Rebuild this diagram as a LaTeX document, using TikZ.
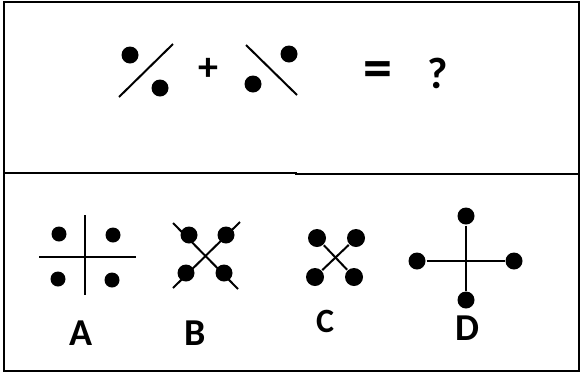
\documentclass[tikz,border=0pt]{standalone}
\usepackage{fontspec}
\setmainfont{Carlito}

\begin{document}
\begin{tikzpicture}[x=1pt, y=-1pt, line width=2pt,
		dot/.style = {circle, fill = black, inner sep = 0pt, minimum size = #1},
		dot/.default = 17pt,
		sign/.style = {font = \fontsize{#1}{#1}\selectfont\bfseries, inner sep = 0pt},
		choice/.style = {font = \fontsize{38}{38}\selectfont\bfseries, inner sep = 0pt}]
			\useasboundingbox (0, 0) rectangle (581, 373);
			% outline
			\draw[line width = 2pt]
				(4, 2) rectangle (579, 371)
				(4, 173) -- (296, 173) -- (296, 174) -- (579, 174);
			% question
			\draw
				(119, 97) -- (173, 44)
				(246, 45) -- (297, 95);
			\node[dot] (qa1) at (130, 55) {};
			\node[dot] (qa2) at (160, 88) {};
			\node[sign = 40] (plus) at (208, 69.5) {+};
			\node[sign = 58] (equals) at (377.5, 75) {=};
			\node[sign = 44] (ask) at (438, 73) {?};
			\node[dot] (qb1) at (289, 54) {};
			\node[dot] (qb2) at (253, 84) {};
			% choice A
			\draw
				(85, 215) -- (85, 295)
				(39, 257) -- (136, 257);
			\node[dot = 15pt] (a1) at (59, 234) {};
			\node[dot = 15pt] (a2) at (113, 235) {};
			\node[dot = 15pt] (a3) at (58, 279) {};
			\node[dot = 15pt] (a4) at (112, 280) {};
			\node[choice] (labA) at (81, 333.5) {A};
			% choice B
			\draw
				(173, 223) -- (238, 289)
				(173, 288) -- (240, 222);
			\node[dot] (b1) at (189, 235) {};
			\node[dot] (b2) at (226, 235) {};
			\node[dot] (b3) at (186, 273) {};
			\node[dot] (b4) at (224, 273) {};
			\node[choice] (labB) at (195, 333) {B};
			% choice C
			\node[dot = 18pt] (c1) at (317, 238) {};
			\node[dot = 18pt] (c2) at (356, 238) {};
			\node[dot = 18pt] (c3) at (315, 277) {};
			\node[dot = 18pt] (c4) at (354, 277) {};
			\draw (c1) -- (c4) (c2) -- (c3);
			\node[choice, font = \fontsize{34}{34}\selectfont\bfseries] (labC) at (325, 321) {C};
			% choice D
			\node[dot] (d1) at (466, 216) {};
			\node[dot] (d2) at (466, 300) {};
			\node[dot] (d3) at (417, 261) {};
			\node[dot] (d4) at (514, 261) {};
			\draw (d1) -- (d2) (d3) -- (d4);
			\node[choice] (labD) at (467, 328.5) {D};
		\end{tikzpicture}
\end{document}
